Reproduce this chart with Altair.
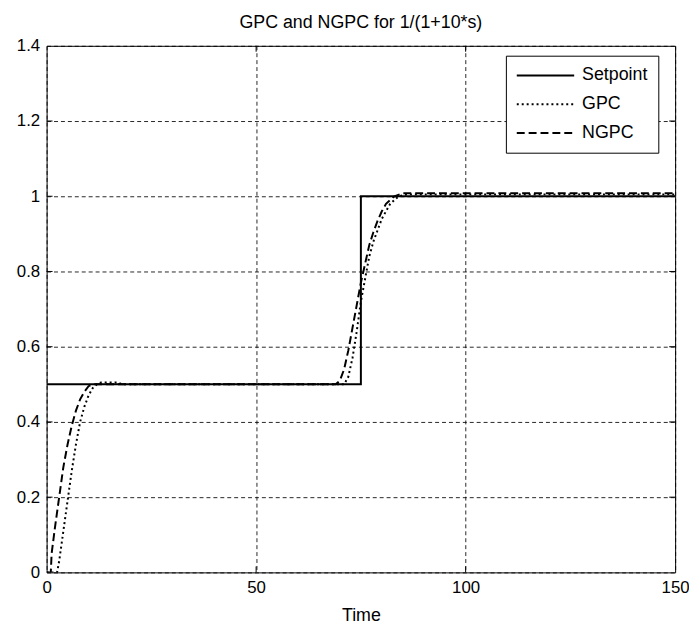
import altair as alt
import pandas as pd

# ---- data ----
series_names = ["Setpoint", "GPC", "NGPC"]

set_t = [0, 75, 75, 150]
set_v = [0.5, 0.5, 1.0, 1.0]

gpc_t = [0, 2, 2.5, 3, 4, 5, 6, 7, 8, 9, 10, 11, 12, 13, 17, 18,
         71, 72, 73, 74, 75, 76, 77, 78, 79, 80, 81, 82, 83, 84, 86, 150]
gpc_v = [0, 0, 0.0, 0.03, 0.11, 0.19, 0.27, 0.34, 0.40, 0.44, 0.47, 0.49, 0.50, 0.505, 0.505, 0.50,
         0.50, 0.52, 0.57, 0.64, 0.72, 0.78, 0.84, 0.88, 0.91, 0.94, 0.96, 0.98, 0.99, 1.0, 1.005, 1.005]

ngpc_t = [0, 1, 1.2, 2, 3, 4, 5, 6, 7, 8, 9, 10, 11,
          69, 70, 71, 72, 73, 74, 75, 76, 77, 78, 79, 80, 81, 82, 83, 85, 150]
ngpc_v = [0, 0, 0.05, 0.12, 0.20, 0.28, 0.34, 0.39, 0.43, 0.46, 0.48, 0.495, 0.5,
          0.5, 0.51, 0.54, 0.59, 0.65, 0.71, 0.77, 0.82, 0.87, 0.905, 0.935, 0.96, 0.98, 0.99, 1.0, 1.008, 1.008]

x_ticks = [0, 50, 100, 150]
y_ticks = [0, 0.2, 0.4, 0.6, 0.8, 1.0, 1.2, 1.4]
x_inner_ticks = [50, 100]
y_inner_ticks = [0.2, 0.4, 0.6, 0.8, 1.0, 1.2]

rows = []
for name, ts, vs in [("Setpoint", set_t, set_v), ("GPC", gpc_t, gpc_v), ("NGPC", ngpc_t, ngpc_v)]:
    for i, (t, v) in enumerate(zip(ts, vs)):
        rows.append({"series": name, "t": t, "v": v, "i": i})
df = pd.DataFrame(rows)

FONT = "Liberation Sans"
W, H = 635, 532

xscale = alt.Scale(domain=[0, 150], nice=False, zero=False)
yscale = alt.Scale(domain=[0, 1.4], nice=False, zero=False)

x_axis = alt.Axis(values=x_ticks, format="d", title="Time", grid=True,
                  labelPadding=7, titlePadding=12, labelFlush=False, labelOverlap=False)
y_axis = alt.Axis(values=y_ticks, format="~g", title=None, grid=True, labelPadding=7,
                  labelFlush=False, labelOverlap=False)

lines = alt.Chart(df).mark_line(color="black", strokeWidth=2, clip=True).encode(
    x=alt.X("t:Q", scale=xscale, axis=x_axis, title="Time"),
    y=alt.Y("v:Q", scale=yscale, axis=y_axis, title=None),
    strokeDash=alt.StrokeDash(
        "series:N",
        scale=alt.Scale(domain=series_names, range=[[1, 0], [2, 3], [8, 4]]),
        legend=alt.Legend(
            title=None, orient="none", legendX=464, legendY=10,
            strokeColor="black", fillColor="white", padding=10,
            symbolType="stroke", symbolSize=3364, symbolStrokeWidth=2,
            symbolStrokeColor="black", labelFont=FONT, labelFontSize=18,
            labelColor="black", labelOffset=7, clipHeight=20, rowPadding=9,
        ),
    ),
    order=alt.Order("i:Q"),
)

xt = pd.DataFrame({"t": x_inner_ticks})
yt = pd.DataFrame({"v": y_inner_ticks})

xt_bottom = alt.Chart(xt).mark_rule(color="black", strokeWidth=1).encode(
    x=alt.X("t:Q", scale=xscale, axis=x_axis, title="Time"), y=alt.value(H), y2=alt.value(H - 6))
xt_top = alt.Chart(xt).mark_rule(color="black", strokeWidth=1).encode(
    x=alt.X("t:Q", scale=xscale, axis=x_axis, title="Time"), y=alt.value(0), y2=alt.value(6))
yt_left = alt.Chart(yt).mark_rule(color="black", strokeWidth=1).encode(
    y=alt.Y("v:Q", scale=yscale, axis=y_axis, title=None), x=alt.value(0), x2=alt.value(6))
yt_right = alt.Chart(yt).mark_rule(color="black", strokeWidth=1).encode(
    y=alt.Y("v:Q", scale=yscale, axis=y_axis, title=None), x=alt.value(W), x2=alt.value(W - 6))

chart = alt.layer(lines, xt_bottom, xt_top, yt_left, yt_right).properties(
    width=W, height=H,
    title=alt.TitleParams("GPC and NGPC for 1/(1+10*s)", font=FONT, fontSize=18,
                          fontWeight="normal", color="black", anchor="middle",
                          frame="group", offset=5),
    autosize=alt.AutoSizeParams(type="none"),
    padding={"left": 39, "top": 35, "right": 14, "bottom": 54},
    background="white",
).configure_view(
    stroke="black", strokeWidth=1
).configure_axis(
    domain=False, ticks=False, tickSize=0,
    gridColor="black", gridDash=[4, 3], gridWidth=1, gridOpacity=0.85,
    labelFont=FONT, labelFontSize=17, labelColor="black",
    titleFont=FONT, titleFontSize=18, titleFontWeight="normal", titleColor="black",
)

chart.save("out.html", embed_options={"renderer": "svg", "actions": False})
